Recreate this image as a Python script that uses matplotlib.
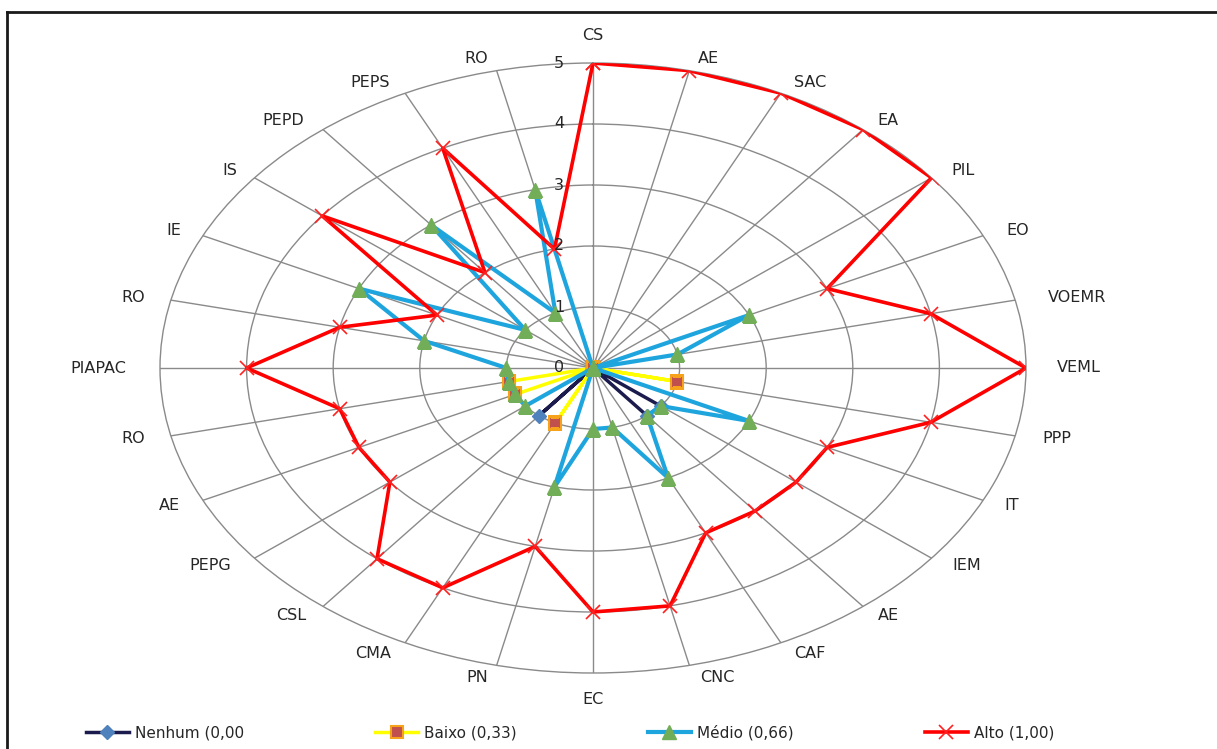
import numpy as np
import matplotlib
matplotlib.use('Agg')
import matplotlib.pyplot as plt
from matplotlib.lines import Line2D

# categories, clockwise from the top
categories = ['CS', 'AE', 'SAC', 'EA', 'PIL', 'EO', 'VOEMR', 'VEML', 'PPP', 'IT',
              'IEM', 'AE', 'CAF', 'CNC', 'EC', 'PN', 'CMA', 'CSL', 'PEPG', 'AE',
              'RO', 'PIAPAC', 'RO', 'IE', 'IS', 'PEPD', 'PEPS', 'RO']

nenhum = [0, 0, 0, 0, 0, 0, 0, 0, 0, 0, 1, 1, 0, 0, 0, 0, 0, 1, 0, 0, 0, 0, 0, 0, 0, 0, 0, 0]
baixo = [0, 0, 0, 0, 0, 0, 0, 0, 1, 0, 0, 0, 0, 0, 0, 0, 1, 0, 0, 1, 1, 0, 0, 0, 0, 0, 0, 0]
medio = [0, 0, 0, 0, 0, 2, 1, 0, 0, 2, 1, 1, 2, 1, 1, 2, 0, 0, 1, 1, 1, 1, 2, 3, 1, 3, 1, 3]
alto = [5, 5, 5, 5, 5, 3, 4, 5, 4, 3, 3, 3, 3, 4, 4, 3, 4, 4, 3, 3, 3, 4, 3, 2, 4, 2, 4, 2]

series_labels = ['Nenhum (0,00', 'Baixo (0,33)', 'Médio (0,66)', 'Alto (1,00)']
r_ticks = [0, 1, 2, 3, 4, 5]

W, H = 1217, 749
fig = plt.figure(figsize=(W / 100, H / 100), dpi=100)
fig.patch.set_facecolor('white')

# plot area: centre (593, 368), x radius 433 px, y radius 305 px
cx, cy, rx, ry = 593, 368, 433, 305
ax = fig.add_axes([(cx - rx) / W, (H - cy - ry) / H, 2 * rx / W, 2 * ry / H],
                  projection='polar')
ax.set_aspect('auto')
ax.set_theta_zero_location('N')
ax.set_theta_direction(-1)
ax.set_ylim(0, 5)
ax.patch.set_alpha(0)

n = len(categories)
theta = np.arange(n) * 2 * np.pi / n
theta_c = np.append(theta, theta[0])

# gridlines: rings and spokes
grid_col = '#8a8a8a'
ax.set_xticks(theta)
ax.set_xticklabels([])
ax.set_yticks(r_ticks[1:-1])
ax.set_yticklabels([])
ax.tick_params(length=0)
ax.grid(True, color=grid_col, lw=1.0)
ax.spines['polar'].set_color(grid_col)
ax.spines['polar'].set_linewidth(1.0)


def closed(vals):
    return np.append(vals, vals[0])


ax.plot(theta_c, closed(nenhum), color='#1b1b4d', lw=2.5, marker='D', ms=7,
        mfc='#4f81bd', mec='#4f81bd', zorder=3, label=series_labels[0])
ax.plot(theta_c, closed(baixo), color='#ffff00', lw=2.5, marker='s', ms=9,
        mfc='#c0504d', mec='#f7a21b', mew=1.5, zorder=4, label=series_labels[1])
ax.plot(theta_c, closed(medio), color='#1fa5de', lw=3.0, marker='^', ms=10,
        mfc='#72ad58', mec='#72ad58', zorder=5, label=series_labels[2])
ax.plot(theta_c, closed(alto), color='#ff0000', lw=2.6, marker='x', ms=10,
        mec='#ff2020', mew=1.2, zorder=6, label=series_labels[3])

txt_col = '#262626'
fs = 11.5

# radial values next to the top spoke
for r in r_ticks:
    ax.annotate(str(r), xy=(0, r), xytext=(-29, 0), textcoords='offset pixels',
                ha='right', va='center', fontsize=fs, color=txt_col, zorder=7)

# category labels outside the outer ring
fig.canvas.draw()
renderer = fig.canvas.get_renderer()
for t, lab in zip(theta, categories):
    s, c = np.sin(t), np.cos(t)
    txt = ax.annotate(lab, xy=(t, 5), xytext=(0, 0), textcoords='offset pixels',
                      ha='center', va='center', fontsize=fs, color=txt_col)
    w = txt.get_window_extent(renderer).width
    if abs(s) < 0.01:
        ox, oy = 0, c * 27
    else:
        ox = np.sign(s) * (3 + 19 * s * s + 0.708 * w)
        oy = c * 12
    txt.set_position((ox, oy))

leg = fig.legend(loc='center', bbox_to_anchor=(570 / W, 1 - 733 / H), ncol=4,
                 frameon=False, fontsize=11, handlelength=2.8, handletextpad=0.4,
                 columnspacing=8.6)
for t in leg.get_texts():
    t.set_color(txt_col)

# chart border (top and left edges visible)
fig.add_artist(Line2D([7 / W, 1], [1 - 12 / H, 1 - 12 / H], color='#1a1a1a', lw=2,
                      transform=fig.transFigure))
fig.add_artist(Line2D([7 / W, 7 / W], [0, 1 - 12 / H], color='#1a1a1a', lw=2,
                      transform=fig.transFigure))

fig.savefig('out.png', dpi=100)
